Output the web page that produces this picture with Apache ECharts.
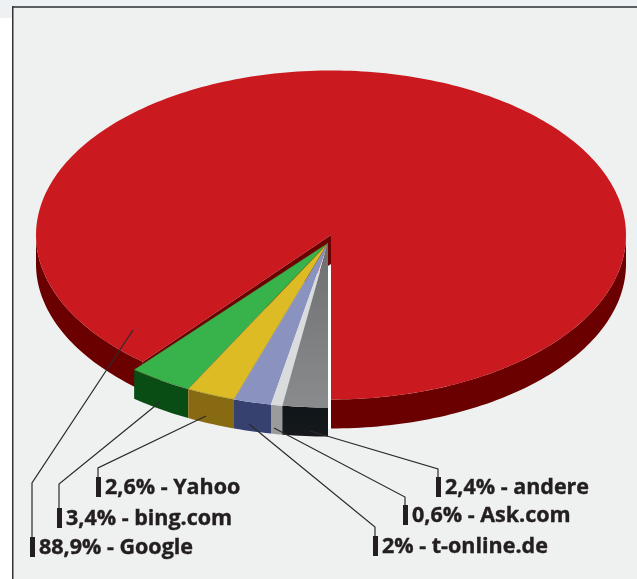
<!DOCTYPE html>
<html>
<head>
<meta charset="utf-8">
<style>
  html, body { margin: 0; padding: 0; background: #fff; }
  #chart { width: 637px; height: 579px; }
</style>
<script src="https://cdn.jsdelivr.net/npm/echarts@6/dist/echarts.min.js"></script>
</head>
<body>
<div id="chart"></div>
<script>
// clockwise from the front of the pie, as in the picture
const categories = ['andere', 'Ask.com', 't-online.de', 'Yahoo', 'bing.com', 'Google']
const shares = [2.4, 0.6, 2, 2.6, 3.4, 88.9]
const valueLabels = ['2,4%', '0,6%', '2%', '2,6%', '3,4%', '88,9%']

const topColors = ['#747678', '#d9dbdc', '#8a92bf', '#dcbb24', '#38b24a', '#cb1a1f']
const sideColors = ['#11171b', '#9a9b9b', '#37416f', '#886a12', '#0a4d14', '#6b0000']

// label bar [x, top], then the leader line from the bar up to the slice
const labelBars = [[436, 477], [403, 505], [373, 536], [96, 477], [57, 508], [30, 537]]
const leaderLines = [
  [[438, 477], [438, 469], [310, 431]],
  [[405, 505], [405, 497], [274, 428]],
  [[375, 536], [375, 527], [249, 424]],
  [[98, 477], [98, 468], [206, 416]],
  [[59, 508], [59, 484], [160, 402]],
  [[32, 537], [32, 483], [133, 330]]
]

const DEPTH = 29
const WEDGE_OFFSET = [-3, 8]
const WEDGE_SCALE_X = 1.03
const total = shares.reduce((a, b) => a + b, 0)

// start/end angle of each slice, 0 = front, growing clockwise
let acc = 0
const slices = shares.map((v, i) => {
  const start = acc / total * Math.PI * 2
  acc += v
  return { index: i, start, end: acc / total * Math.PI * 2 }
})
const wedgeEnd = slices[4].end

function arcPoints(api, a0, a1, offset, scaleX) {
  const pts = []
  const steps = Math.max(2, Math.ceil(Math.abs(a1 - a0) / 0.02))
  for (let s = 0; s <= steps; s++) {
    const a = a0 + (a1 - a0) * s / steps
    const p = api.coord([-Math.sin(a) * scaleX, Math.cos(a)])
    pts.push([p[0] + offset[0], p[1] + offset[1]])
  }
  return pts
}

function centerPoint(api, offset) {
  const p = api.coord([0, 0])
  return [p[0] + offset[0], p[1] + offset[1]]
}

function sidePoly(arc) {
  return arc.concat(arc.slice().reverse().map(p => [p[0], p[1] + DEPTH]))
}

function poly(points, fill, stroke) {
  return {
    type: 'polygon',
    shape: { points },
    style: { fill, stroke: stroke || null, lineWidth: stroke ? 0.6 : 0 }
  }
}

function vGrad(c0, c1) {
  return new echarts.graphic.LinearGradient(0, 0, 0, 1, [
    { offset: 0, color: c0 },
    { offset: 1, color: c1 }
  ])
}

function renderGoogle(api) {
  const none = [0, 0]
  const c = centerPoint(api, none)
  const children = []
  // the hole left by the pulled-out slices
  const hole = arcPoints(api, 0, wedgeEnd, none, 1)
  children.push(poly([c, [c[0], c[1] + DEPTH]].concat(hole.map(p => [p[0], p[1] + DEPTH])), '#ffffff'))
  // rim, left and right of the hole
  const side = sideColors[5]
  children.push(poly(sidePoly(arcPoints(api, wedgeEnd, Math.PI / 2, none, 1)), side))
  children.push(poly(sidePoly(arcPoints(api, Math.PI * 1.5, Math.PI * 2, none, 1)), side))
  // inner wall along the cut
  const cut = arcPoints(api, wedgeEnd, wedgeEnd, none, 1)[0]
  children.push(poly([c, cut, [cut[0], cut[1] + DEPTH], [c[0], c[1] + DEPTH]], side))
  children.push(poly([c].concat(arcPoints(api, wedgeEnd, Math.PI * 2, none, 1)), topColors[5]))
  return { type: 'group', children }
}

function renderWedge(api, slice) {
  const i = slice.index
  const c = centerPoint(api, WEDGE_OFFSET)
  const arc = arcPoints(api, slice.start, slice.end, WEDGE_OFFSET, WEDGE_SCALE_X)
  let sideFill = sideColors[i]
  let topFill = topColors[i]
  if (i === 0) {
    sideFill = vGrad('#0f1519', '#15191c')
    topFill = vGrad('#6d6f71', '#8a8b8c')
  }
  return {
    type: 'group',
    children: [
      poly(sidePoly(arc), sideFill),
      poly([c].concat(arc), topFill, i >= 3 ? 'rgba(90,90,40,0.6)' : null)
    ]
  }
}

const seriesData = [5, 4, 3, 2, 1, 0].map(i => ({
  name: categories[i],
  value: [i, shares[i]]
}))

const labelItems = categories.map((name, i) => ({
  name,
  bar: labelBars[i],
  line: leaderLines[i],
  text: valueLabels[i] + ' - ' + name
}))

const graphics = [
  { type: 'rect', silent: true, z: -3, shape: { x: 0, y: 0, width: 637, height: 18 }, style: { fill: '#eef1f3' } },
  { type: 'rect', silent: true, z: -2, shape: { x: 12, y: 7, width: 625, height: 572 }, style: { fill: '#eff0f0' } },
  { type: 'rect', silent: true, z: -1, shape: { x: 12, y: 6, width: 625, height: 2 }, style: { fill: '#5c5e60' } },
  { type: 'rect', silent: true, z: -1, shape: { x: 12, y: 6, width: 1.5, height: 573 }, style: { fill: '#333335' } }
]

labelItems.forEach(item => {
  graphics.push({
    type: 'polyline', silent: true, z: 10,
    shape: { points: item.line },
    style: { fill: null, stroke: '#2b2b2d', lineWidth: 1.2 }
  })
  graphics.push({
    type: 'rect', silent: true, z: 10,
    shape: { x: item.bar[0], y: item.bar[1], width: 5, height: 20 },
    style: { fill: '#231f20' }
  })
  graphics.push({
    type: 'text', silent: true, z: 10,
    x: item.bar[0] + 9, y: item.bar[1] + 11,
    style: {
      text: item.text,
      fill: '#231f20',
      stroke: '#231f20',
      lineWidth: 0.4,
      font: 'bold 21.5px "Open Sans", sans-serif',
      textVerticalAlign: 'middle'
    }
  })
})

const chart = echarts.init(document.getElementById('chart'), null, { renderer: 'canvas' })
chart.setOption({
  animation: false,
  backgroundColor: '#ffffff',
  // unit circle on hidden axes: the two scales make it the ellipse of the pie
  grid: { left: 36, top: 70.5, width: 590, height: 329 },
  xAxis: { type: 'value', min: -1, max: 1, show: false },
  yAxis: { type: 'value', min: -1, max: 1, show: false, inverse: true },
  graphic: graphics,
  series: [{
    type: 'custom',
    clip: false,
    silent: true,
    encode: { x: 0, y: 1 },
    data: seriesData,
    renderItem: (params, api) => {
      const slice = slices[api.value(0)]
      return slice.index === 5 ? renderGoogle(api) : renderWedge(api, slice)
    }
  }]
})
</script>
</body>
</html>
